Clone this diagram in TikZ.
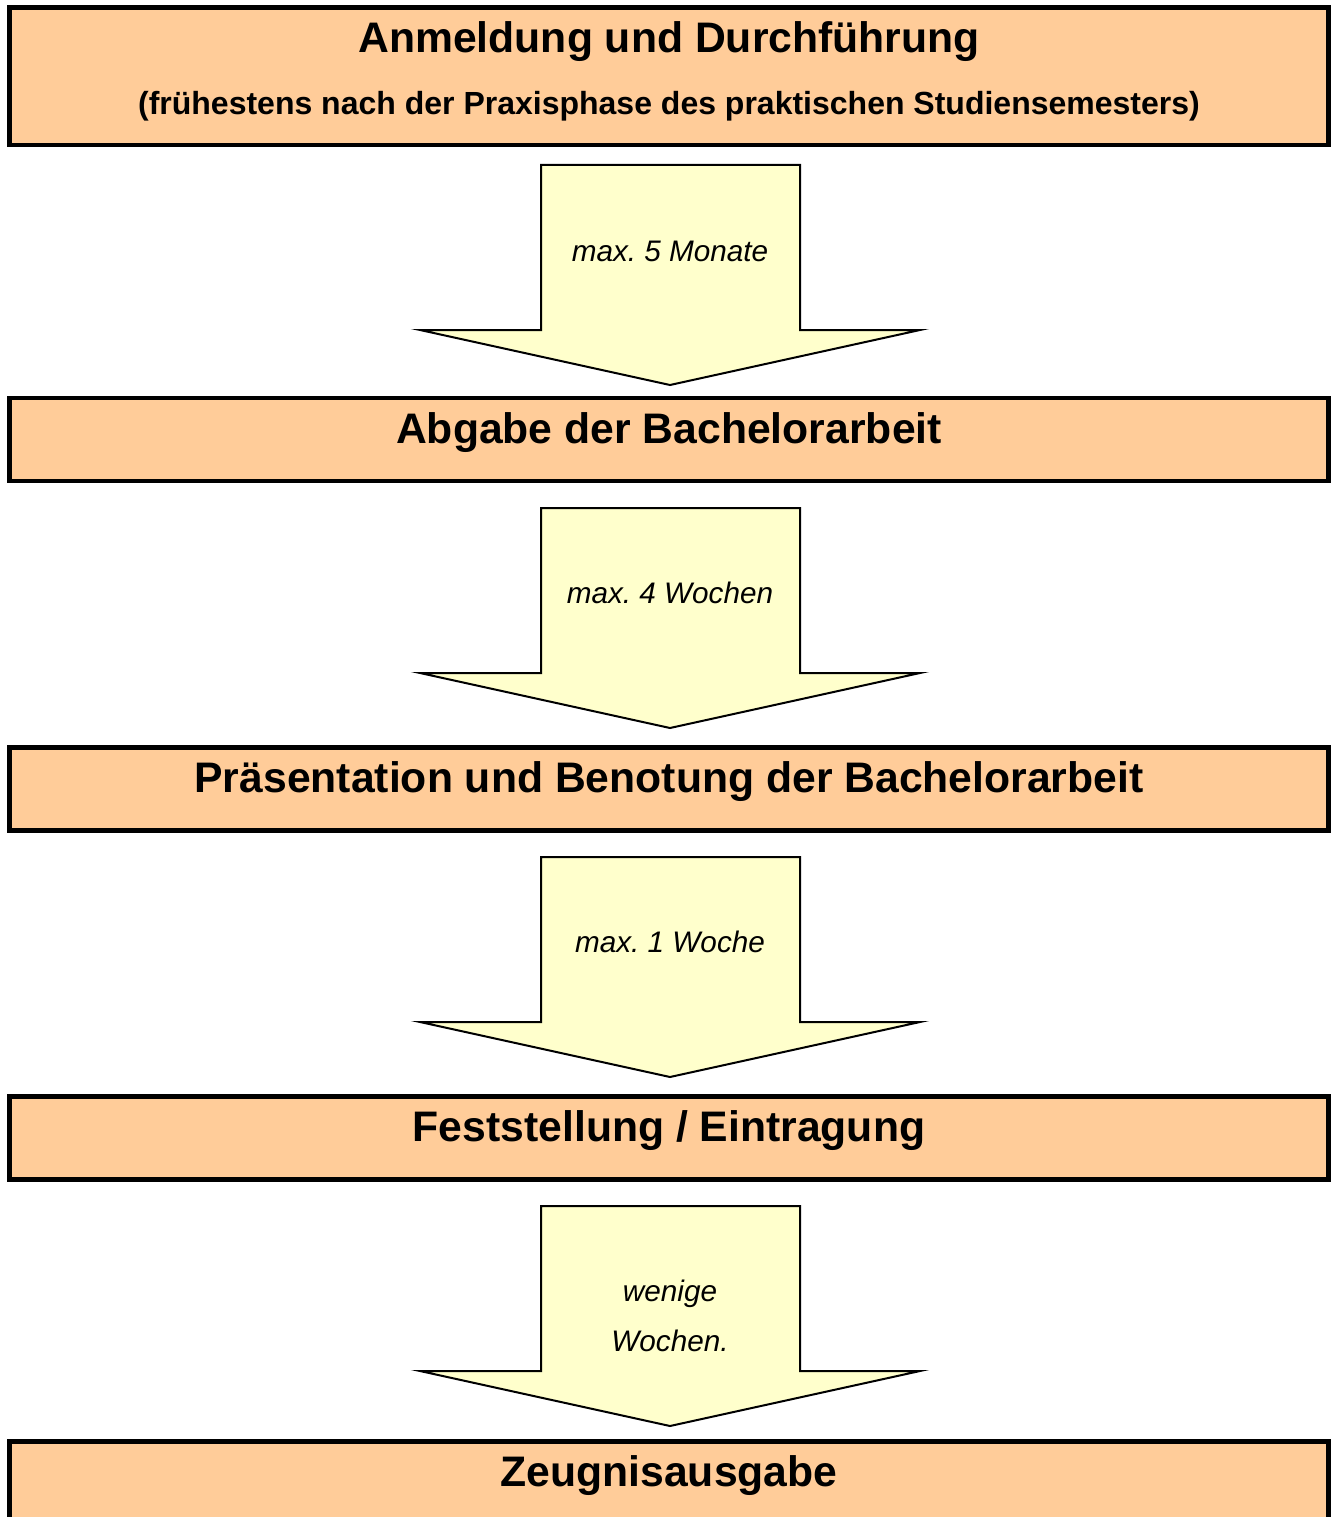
\documentclass[tikz,border=0pt]{standalone}
\usepackage{fontspec}
\setmainfont{Liberation Sans}
\usepackage{tikz}

\definecolor{stagefill}{HTML}{FFCC99}
\definecolor{arrowfill}{HTML}{FFFFCC}

\begin{document}
\begin{tikzpicture}[x=1pt,y=-1pt,
		stage/.style={draw,line width=4.8pt,fill=stagefill,minimum width=1319pt,
			inner sep=0pt,text height=45pt,text depth=38pt,
			font=\fontsize{42.7}{50}\selectfont\bfseries},
		blockarrow/.style={draw,line width=2pt,fill=arrowfill},
		duration/.style={align=center,font=\fontsize{29.7}{50}\selectfont\itshape\frenchspacing}]
		\useasboundingbox[fill=white] (0,0) rectangle (1336,1517);
		\clip (0,0) rectangle (1336,1517);

		% stages
		\node[stage,text depth=92.5pt] (anmeldung) at (669,76.25) {Anmeldung und Durchführung};
		\node[anchor=base,font=\fontsize{32}{36}\selectfont\bfseries] (frist) at (669,115)
			{(frühestens nach der Praxisphase des praktischen Studiensemesters)};
		\node[stage] (abgabe) at (669,439.5) {Abgabe der Bachelorarbeit};
		\node[stage] (praesentation) at (669,789) {Präsentation und Benotung der Bachelorarbeit};
		\node[stage] (feststellung) at (669,1138) {Feststellung / Eintragung};
		\node[stage] (zeugnis) at (669,1483) {Zeugnisausgabe};

		% arrows with durations
		\foreach \ytop/\ylab/\txt [count=\i] in
		{165/251/{max. 5 Monate}, 508/593/{max. 4 Wochen},
		857/942/{max. 1 Woche}, 1206/1316/{wenige\\Wochen.}}
		{
			\draw[blockarrow] (541,\ytop) -- (800,\ytop) -- (800,\ytop+165) -- (920,\ytop+165)
				-- (670,\ytop+220) -- (420,\ytop+165) -- (541,\ytop+165) -- cycle;
			\node[duration] (dauer\i) at (670,\ylab) {\txt};
		}
	\end{tikzpicture}
\end{document}
